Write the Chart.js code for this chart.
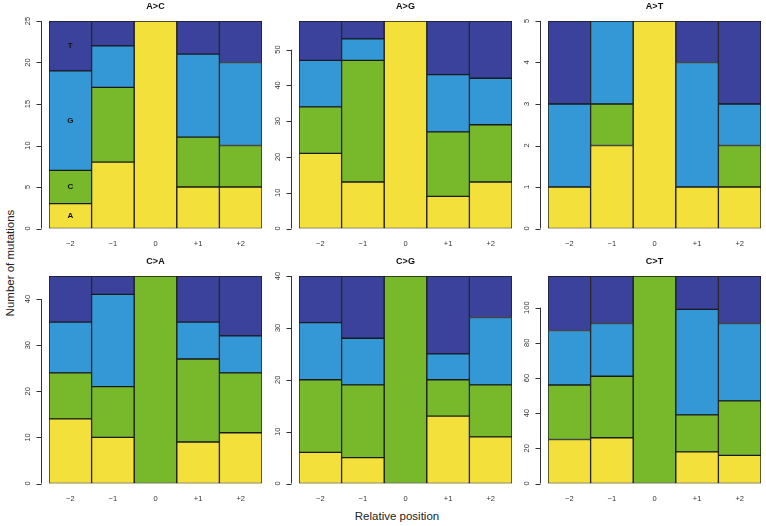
<!DOCTYPE html>
<html>
<head>
<meta charset="utf-8">
<script src="https://cdn.jsdelivr.net/npm/chart.js@4"></script>
<style>
  html, body { margin:0; padding:0; background:#fff; }
  body { width:766px; height:526px; position:relative; overflow:hidden; font-family:"Liberation Sans", Arial, sans-serif; }
  .panel { position:absolute; }
  .ylab { position:absolute; left:10px; top:263px; transform:translate(-50%,-50%) rotate(-90deg); font-size:11.5px; color:#222; white-space:nowrap; }
  .xlab { position:absolute; left:397px; top:516px; transform:translate(-50%,-50%); font-size:11.5px; color:#222; white-space:nowrap; }
</style>
</head>
<body>
<div class="ylab">Number of mutations</div>
<div class="xlab">Relative position</div>
<script>
// ---- data ----
const positions = ['\u22122', '\u22121', '0', '+1', '+2'];
const baseNames = ['A', 'C', 'G', 'T'];
const baseColors = ['#F4E03A', '#77B92A', '#3498D6', '#3A429B'];
const panelTitles = ['A>C', 'A>G', 'A>T', 'C>A', 'C>G', 'C>T'];

// counts of each neighbouring base at each relative position
const AC_A = [3, 8, 25, 5, 5];
const AC_C = [4, 9, 0, 6, 5];
const AC_G = [12, 5, 0, 10, 10];
const AC_T = [6, 3, 0, 4, 5];

const AG_A = [21, 13, 58, 9, 13];
const AG_C = [13, 34, 0, 18, 16];
const AG_G = [13, 6, 0, 16, 13];
const AG_T = [11, 5, 0, 15, 16];

const AT_A = [1, 2, 5, 1, 1];
const AT_C = [0, 1, 0, 0, 1];
const AT_G = [2, 2, 0, 3, 1];
const AT_T = [2, 0, 0, 1, 2];

const CA_A = [14, 10, 0, 9, 11];
const CA_C = [10, 11, 45, 18, 13];
const CA_G = [11, 20, 0, 8, 8];
const CA_T = [10, 4, 0, 10, 13];

const CG_A = [6, 5, 0, 13, 9];
const CG_C = [14, 14, 40, 7, 10];
const CG_G = [11, 9, 0, 5, 13];
const CG_T = [9, 12, 0, 15, 8];

const CT_A = [25, 26, 0, 18, 16];
const CT_C = [31, 35, 118, 21, 31];
const CT_G = [31, 30, 0, 60, 44];
const CT_T = [31, 27, 0, 19, 27];

// y axis ticks per panel
const AC_ticks = [0, 5, 10, 15, 20, 25];
const AG_ticks = [0, 10, 20, 30, 40, 50];
const AT_ticks = [0, 1, 2, 3, 4, 5];
const CA_ticks = [0, 10, 20, 30, 40];
const CG_ticks = [0, 10, 20, 30, 40];
const CT_ticks = [0, 20, 40, 60, 80, 100];

const panelSeries = [
  [AC_A, AC_C, AC_G, AC_T],
  [AG_A, AG_C, AG_G, AG_T],
  [AT_A, AT_C, AT_G, AT_T],
  [CA_A, CA_C, CA_G, CA_T],
  [CG_A, CG_C, CG_G, CG_T],
  [CT_A, CT_C, CT_G, CT_T]
];
const panelTicks = [AC_ticks, AG_ticks, AT_ticks, CA_ticks, CG_ticks, CT_ticks];

// ---- layout ----
const colLefts = [0, 250, 499];
const rowTops = [0, 255];
const W = 265, H = 263;
const FONT = '"Liberation Sans", Arial, sans-serif';

const axisPlugin = {
  id: 'rAxis',
  afterDraw(chart) {
    const ctx = chart.ctx;
    const ca = chart.chartArea;
    const ys = chart.scales.y;
    const opts = chart.options.plugins.rAxis;
    const ticks = opts.ticks;
    const ax = ca.left - 8.5;
    ctx.save();
    ctx.strokeStyle = '#333';
    ctx.lineWidth = 1;
    ctx.beginPath();
    ctx.moveTo(Math.round(ax) + 0.5, ys.getPixelForValue(ticks[0]));
    ctx.lineTo(Math.round(ax) + 0.5, ys.getPixelForValue(ticks[ticks.length - 1]));
    ticks.forEach(t => {
      const py = Math.round(ys.getPixelForValue(t)) + 0.5;
      ctx.moveTo(Math.round(ax) + 0.5, py);
      ctx.lineTo(Math.round(ax) - 4.5, py);
    });
    ctx.stroke();
    ctx.fillStyle = '#333';
    ctx.font = '7.5px ' + FONT;
    ctx.textAlign = 'center';
    ctx.textBaseline = 'middle';
    ticks.forEach(t => {
      const py = ys.getPixelForValue(t);
      ctx.save();
      ctx.translate(ax - 12.5, py);
      ctx.rotate(-Math.PI / 2);
      ctx.fillText(String(t), 0, 0);
      ctx.restore();
    });
    // panel title
    ctx.fillStyle = '#111';
    ctx.font = 'bold 9px ' + FONT;
    ctx.textBaseline = 'middle';
    ctx.fillText(opts.title, (ca.left + ca.right) / 2, ca.top - 14);
    // base labels
    if (opts.baseLabels) {
      ctx.font = 'bold 8px ' + FONT;
      chart.data.datasets.forEach((ds, i) => {
        const el = chart.getDatasetMeta(i).data[0];
        ctx.fillText(ds.label, el.x, (el.y + el.base) / 2);
      });
    }
    ctx.restore();
  }
};

panelSeries.forEach((series, p) => {
  const div = document.createElement('div');
  div.className = 'panel';
  div.style.left = colLefts[p % 3] + 'px';
  div.style.top = rowTops[Math.floor(p / 3)] + 'px';
  const cv = document.createElement('canvas');
  cv.width = W; cv.height = H;
  cv.style.width = W + 'px'; cv.style.height = H + 'px';
  div.appendChild(cv);
  document.body.appendChild(div);
  const total = series.reduce((s, arr) => s + arr[0], 0);
  new Chart(cv, {
    type: 'bar',
    data: {
      labels: positions,
      datasets: series.map((arr, i) => ({
        label: baseNames[i],
        data: arr,
        backgroundColor: baseColors[i],
        borderColor: '#1a1a1a',
        borderWidth: 1,
        borderSkipped: false,
        categoryPercentage: 1,
        barPercentage: 1
      }))
    },
    options: {
      responsive: false,
      devicePixelRatio: 1,
      animation: false,
      layout: { padding: { left: 49, top: 21, right: 3, bottom: 3.5 } },
      plugins: {
        legend: { display: false },
        tooltip: { enabled: false },
        rAxis: { ticks: panelTicks[p], title: panelTitles[p], baseLabels: p === 0 }
      },
      scales: {
        x: {
          stacked: true,
          grid: { display: false, drawTicks: false },
          border: { display: false },
          ticks: { color: '#333', font: { size: 7.5, family: FONT }, padding: 11, maxRotation: 0 }
        },
        y: {
          stacked: true,
          display: false,
          min: 0,
          max: total
        }
      }
    },
    plugins: [axisPlugin]
  });
});
</script>
</body>
</html>
